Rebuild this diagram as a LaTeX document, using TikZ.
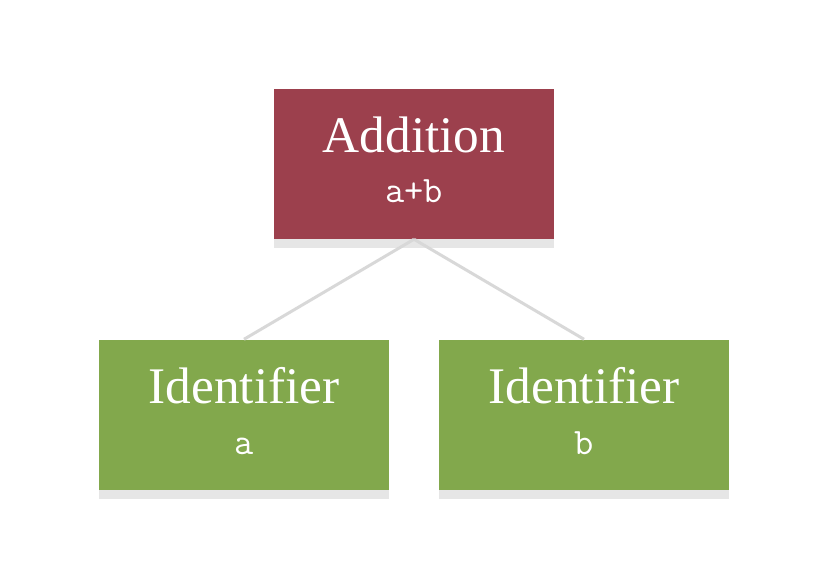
\documentclass[tikz,border=0pt]{standalone}
\usepackage{fontspec}
\setmainfont{Liberation Serif}
\usetikzlibrary{positioning,shadows}

\definecolor{addred}{RGB}{156,64,77}
\definecolor{idgreen}{RGB}{130,168,76}
\definecolor{edgegray}{RGB}{216,216,216}
\definecolor{shadowgray}{RGB}{230,230,230}

\tikzset{
	astbox/.style={rectangle, minimum height=112.5pt, inner sep=0pt,
		drop shadow={shadow xshift=0pt, shadow yshift=-6.75pt, fill=shadowgray, opacity=1}},
	addbox/.style={astbox, fill=addred, minimum width=210pt},
	idbox/.style={astbox, fill=idgreen, minimum width=217.5pt},
	kind/.style={anchor=base, text=white, font=\fontsize{38.5}{40}\selectfont},
	code/.style={anchor=base, text=white, font=\ttfamily\fontsize{28}{30}\selectfont},
	astedge/.style={draw=edgegray, line width=2.25pt},
}

\begin{document}
\begin{tikzpicture}
	\useasboundingbox (0,0) rectangle (627pt,-439.5pt);
	\node[addbox] (add) at (310.5pt,-123pt) {};
	\node[idbox, below=75pt of add, xshift=-127.5pt] (ida) {};
	\node[idbox, below=75pt of add, xshift=127.5pt] (idb) {};
	
	\draw[astedge] (add.south) -- (ida.north);
	\draw[astedge] (add.south) -- (idb.north);
	
	\node[kind] (addkind) at ([yshift=-48pt]add.north) {Addition};
	\node[code] (addcode) at ([yshift=-85.5pt]add.north) {a+b};
	\node[kind] (idakind) at ([yshift=-48pt]ida.north) {Identifier};
	\node[code] (idacode) at ([yshift=-86.5pt]ida.north) {a};
	\node[kind] (idbkind) at ([yshift=-48pt]idb.north) {Identifier};
	\node[code] (idbcode) at ([yshift=-86.5pt]idb.north) {b};
\end{tikzpicture}
\end{document}
